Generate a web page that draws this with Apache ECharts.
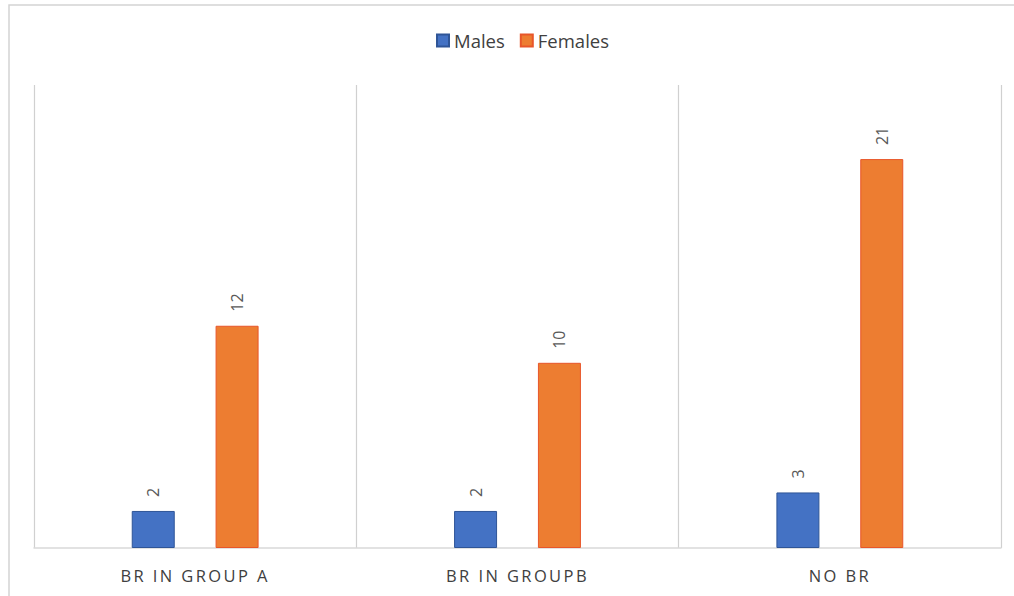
<!DOCTYPE html>
<html><head><meta charset="utf-8">
<script src="https://cdn.jsdelivr.net/npm/echarts@6/dist/echarts.min.js"></script>
<style>html,body{margin:0;padding:0;background:#fff}#c{width:1014px;height:596px}</style>
</head><body><div id="c"></div>
<script>
const categories = ['BR IN GROUP A', 'BR IN GROUPB', 'NO BR'];
const males = [2, 2, 3];
const females = [12, 10, 21];
const seriesNames = ['Males', 'Females'];

const chart = echarts.init(document.getElementById('c'), null, {renderer: 'svg'});
const labelStyle = {
  show: true, position: 'top', rotate: 90, distance: 14,
  align: 'left', verticalAlign: 'middle',
  color: '#595959', fontSize: 16, fontFamily: 'Open Sans'
};
chart.setOption({
  animation: false,
  graphic: [{type: 'rect', shape: {x: 9, y: 5, width: 1100, height: 700},
    style: {fill: 'none', stroke: '#d4d4d4', lineWidth: 1.5}, silent: true, z: -1}],
  legend: {
    top: 26, left: 431, itemWidth: 12, itemHeight: 12, itemGap: 15,
    icon: 'rect',
    textStyle: {fontSize: 18.5, color: '#404040', fontFamily: 'Open Sans'},
    data: seriesNames
  },
  grid: {left: 34, right: 13, top: 85, bottom: 48},
  xAxis: {
    type: 'category', data: categories,
    axisLine: {lineStyle: {color: '#d9d9d9', width: 1.5}},
    axisTick: {show: false},
    splitLine: {show: true, lineStyle: {color: '#d0d0d0', width: 1.2}},
    axisLabel: {margin: 19, fontSize: 16.5, color: '#404040', fontFamily: 'Open Sans'}
  },
  yAxis: {type: 'value', min: 0, max: 25, show: false, splitLine: {show: false}},
  series: [
    {name: seriesNames[0], type: 'bar', data: males, barWidth: 43, barGap: '95%',
     itemStyle: {color: '#4472C4', borderColor: '#2F5597', borderWidth: 1}, label: labelStyle},
    {name: seriesNames[1], type: 'bar', data: females, barWidth: 43,
     itemStyle: {color: '#ED7D31', borderColor: '#E8562A', borderWidth: 1}, label: labelStyle}
  ]
});
function spaceLabels(){
  document.querySelectorAll('#c svg text').forEach(t => {
    if (categories.includes(t.textContent.trim())) t.style.letterSpacing = '2.4px';
  });
}
spaceLabels();
chart.on('finished', spaceLabels);
</script></body></html>
